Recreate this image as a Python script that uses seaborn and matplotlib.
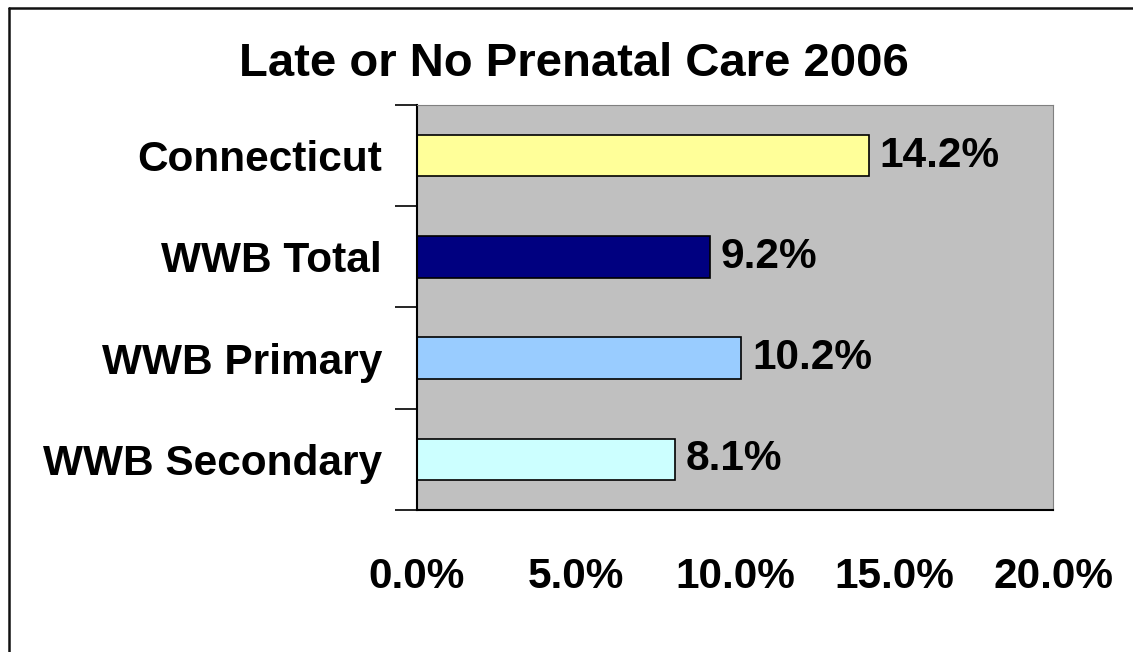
import matplotlib
matplotlib.use("Agg")
import matplotlib.pyplot as plt
import seaborn as sns
import pandas as pd
from matplotlib.lines import Line2D
from matplotlib.ticker import FixedLocator, PercentFormatter

# data
categories = ["Connecticut", "WWB Total", "WWB Primary", "WWB Secondary"]
values = [14.2, 9.2, 10.2, 8.1]
bar_colors = ["#FFFF99", "#000080", "#99CCFF", "#CCFFFF"]
x_ticks = [0, 5, 10, 15, 20]

df = pd.DataFrame({"group": categories, "pct": values})

sns.set_style("white")
plt.rcParams["font.family"] = ["Liberation Sans", "DejaVu Sans"]
plt.rcParams["font.weight"] = "bold"
plt.rcParams["text.color"] = "black"
plt.rcParams["xtick.color"] = "black"
plt.rcParams["ytick.color"] = "black"

fig = plt.figure(figsize=(11.33, 6.52), dpi=100)
ax = fig.add_axes([0.368, 0.2178, 0.9294 - 0.368, 0.839 - 0.2178])

sns.barplot(data=df, x="pct", y="group", hue="group", palette=bar_colors,
            order=categories, orient="h", width=0.41, edgecolor="black",
            linewidth=1.2, saturation=1, legend=False, ax=ax)

ax.set_facecolor("#C0C0C0")
ax.set_xlim(0, 20)
ax.set_ylim(3.5, -0.5)
ax.set_xticks(x_ticks)
ax.xaxis.set_major_formatter(PercentFormatter(decimals=1))
ax.set_xlabel("")
ax.set_ylabel("")

# value labels
for cont in ax.containers:
    ax.bar_label(cont, fmt="%.1f%%", padding=8, fontsize=30.5,
                 fontweight="bold", color="black")

ax.tick_params(axis="x", length=14, width=1.2, color="black", pad=20,
               labelsize=30.5, labelcolor="black")
ax.tick_params(axis="y", length=0, pad=25, labelsize=30.5, labelcolor="black")
ax.yaxis.set_minor_locator(FixedLocator([-0.5, 0.5, 1.5, 2.5, 3.5]))
ax.tick_params(axis="y", which="minor", length=16, width=1.2, color="black",
               left=True)
for lab in ax.get_xticklabels() + ax.get_yticklabels():
    lab.set_fontweight("bold")

ax.spines["left"].set_color("black")
ax.spines["left"].set_linewidth(1.5)
ax.spines["bottom"].set_color("black")
ax.spines["bottom"].set_linewidth(1.5)
ax.spines["top"].set_color("#808080")
ax.spines["right"].set_color("#808080")

fig.text(0.507, 0.902, "Late or No Prenatal Care 2006", ha="center",
         va="center", fontsize=34, fontweight="bold", color="black")

# frame around the picture (only top and left visible)
fig.add_artist(Line2D([9 / 1133, 9 / 1133], [0, 1 - 8 / 652], color="#111111",
                      lw=1.8, transform=fig.transFigure))
fig.add_artist(Line2D([9 / 1133, 1], [1 - 8 / 652, 1 - 8 / 652], color="#111111",
                      lw=1.8, transform=fig.transFigure))

fig.savefig("out.png", dpi=100)
